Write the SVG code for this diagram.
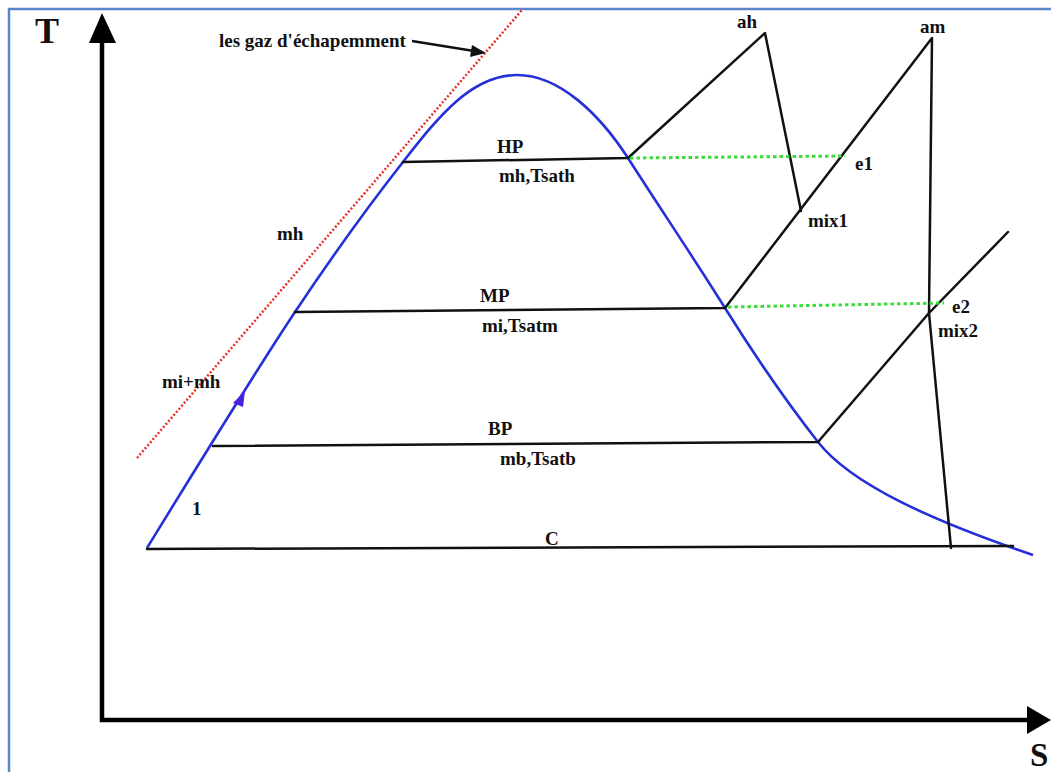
<svg xmlns="http://www.w3.org/2000/svg" width="1051" height="772" viewBox="0 0 1051 772">
<style>
.lbl{font-family:"Liberation Serif","Times New Roman",serif;font-weight:bold;font-size:19px;fill:#111}
.big{font-size:36px}
.blk{stroke:#111;stroke-width:2.5;fill:none;stroke-linejoin:round;stroke-linecap:round}
.axis{stroke:#000;stroke-width:4.5;fill:none}
.green{stroke:#3ddc3d;stroke-width:3;stroke-dasharray:3.5 3;fill:none}
.red{stroke:#e8302a;stroke-width:2.5;stroke-dasharray:2 2;fill:none}
.blue{stroke:#2630d8;stroke-width:2.6;fill:none}
</style>
<rect width="1051" height="772" fill="#fff"/>
<path id="frame" d="M9,772 V9 H1051" fill="none" stroke="#5a86c8" stroke-width="2.5"/>

<g id="axes">
  <line class="axis" x1="102" y1="40" x2="102" y2="722"/>
  <polygon points="102,13 89,43 116,43" fill="#000"/>
  <line class="axis" x1="100" y1="720" x2="1030" y2="720"/>
  <polygon points="1027,706 1027,734 1051,720" fill="#000"/>
  <text class="lbl big" x="35" y="43">T</text>
  <text class="lbl" style="font-size:33px" x="1030" y="766">S</text>
</g>

<g id="exhaust">
  <line class="red" x1="137" y1="458" x2="522" y2="10"/>
  <text class="lbl" x="219" y="47">les gaz d'échapemment</text>
  <line x1="412" y1="41" x2="474" y2="51" stroke="#111" stroke-width="2.5"/>
  <polygon points="486,53 472,45 470,57" fill="#111"/>
</g>

<g id="saturation-curve">
  <path class="blue" d="M147,548 C190,478 255,372 295,312 C335,252 370,204 403,162 C436,120 470,75 517,75 C560,75 600,115 628,158 C660,208 695,260 725,308 C755,356 785,400 818,442 C851,484 930,520 1033,555"/>
  <polygon points="245,391 233,403 243,407" fill="#4a22dd"/>
</g>

<g id="connectors">
  <polyline class="blk" points="403,162 628,158 765,33 801,211"/>
  <polyline class="blk" points="295,312 725,308 932,38 929,313 951,548"/>
  <polyline class="blk" points="213,446 818,442 929,313 1008,232"/>
  <line class="blk" x1="147" y1="549" x2="1013" y2="546"/>
  <line class="green" x1="630" y1="158" x2="845" y2="156"/>
  <line class="green" x1="728" y1="307" x2="944" y2="303"/>
</g>

<g id="HP"><text class="lbl" x="497" y="153">HP</text><text class="lbl" x="499" y="182">mh,Tsath</text></g>
<g id="MP"><text class="lbl" x="480" y="302">MP</text><text class="lbl" x="482" y="332">mi,Tsatm</text></g>
<g id="BP"><text class="lbl" x="488" y="435">BP</text><text class="lbl" x="500" y="465">mb,Tsatb</text></g>
<g id="C"><text class="lbl" x="545" y="545">C</text></g>
<g id="ah"><text class="lbl" x="737" y="28">ah</text></g>
<g id="am"><text class="lbl" x="920" y="33">am</text></g>
<g id="e1"><text class="lbl" x="855" y="170">e1</text></g>
<g id="mix1"><text class="lbl" x="808" y="227">mix1</text></g>
<g id="e2"><text class="lbl" x="952" y="313">e2</text></g>
<g id="mix2"><text class="lbl" x="938" y="337">mix2</text></g>
<g id="mh"><text class="lbl" x="277" y="240">mh</text></g>
<g id="mimh"><text class="lbl" x="162" y="388">mi+mh</text></g>
<g id="p1"><text class="lbl" x="192" y="515">1</text></g>
</svg>
